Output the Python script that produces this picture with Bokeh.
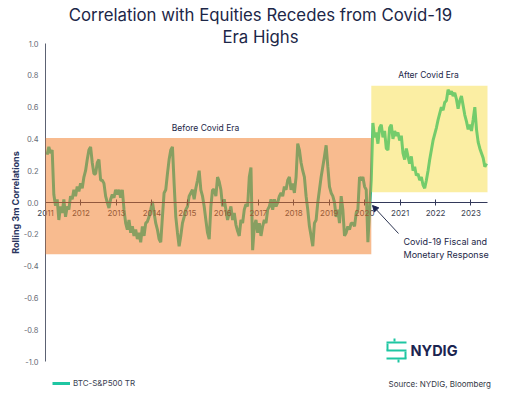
import pandas as pd
from bokeh.plotting import figure
from bokeh.models import (Range1d, FixedTicker, DatetimeTickFormatter, PrintfTickFormatter,
                          BoxAnnotation, Label, Arrow, NormalHead)
from bokeh.embed import file_html
from bokeh.resources import INLINE

# ---------------- data ----------------
series_name = "BTC-S&P500 TR"
first_date = "2011-01-18"
step = "413h"  # roughly every 17 days

before_covid = [
    0.30, 0.35, 0.31, 0.33, 0.05, -0.02, 0.02, -0.11, -0.025, -0.065,
    0.02, -0.09, -0.025, -0.045, 0.04, 0.02, 0.08, 0.04, 0.10, 0.07,
    0.12, 0.09, 0.16, 0.20, 0.27, 0.33, 0.35, 0.25, 0.18, 0.18,
    0.25, 0.27, 0.14, 0.14, 0.12, 0.04, 0.0, -0.035, 0.02, 0.05,
    0.03, 0.08, 0.05, 0.08, 0.03, 0.08, -0.045, -0.13, -0.17, -0.11,
    -0.19, -0.15, -0.21, -0.17, -0.23, -0.19, -0.25, -0.15, -0.21, -0.13,
    -0.12, -0.09, -0.045, 0.005, -0.065, -0.13, -0.17, -0.23, -0.25, -0.09,
    0.06, 0.08, 0.18, 0.27, 0.33, 0.35, 0.12, -0.09, -0.19, -0.275,
    -0.21, -0.13, -0.09, -0.045, -0.025, 0.04, 0.06, 0.08, 0.02, 0.09,
    0.14, 0.20, 0.08, 0.04, -0.025, -0.11, -0.19, -0.23, -0.025, 0.08,
    0.08, 0.04, 0.16, 0.13, 0.08, -0.025, 0.02, -0.045, -0.11, -0.065,
    -0.025, -0.11, -0.065, -0.14, -0.18, -0.21, -0.11, -0.13, -0.045, -0.01,
    -0.025, 0.16, 0.22, -0.30, -0.15, -0.11, -0.19, -0.13, -0.21, -0.15,
    -0.11, -0.13, -0.045, -0.025, 0.02, -0.045, 0.02, -0.025, 0.0, 0.04,
    0.06, 0.04, 0.10, 0.08, 0.14, 0.16, 0.08, 0.12, 0.06, 0.16,
    0.37, 0.33, 0.25, 0.20, 0.16, 0.04, -0.045, -0.15, -0.21, -0.275,
    -0.13, -0.11, 0.0, 0.08, 0.16, 0.225, 0.29, 0.36, 0.225, 0.10,
    0.06, 0.04, 0.0, -0.09, -0.045, -0.13, 0.04, -0.045, -0.21, -0.19,
    -0.15, -0.17, -0.13, -0.13, -0.15, -0.065, -0.045, 0.16, 0.14, 0.16,
    0.10, 0.08, -0.25, -0.045, 0.14,
]
after_covid = [
    0.50, 0.41, 0.44, 0.37, 0.47, 0.49, 0.41, 0.45, 0.34, 0.33,
    0.47, 0.49, 0.40, 0.45, 0.42, 0.44, 0.39, 0.42, 0.31, 0.27,
    0.34, 0.29, 0.245, 0.29, 0.20, 0.225, 0.17, 0.18, 0.14, 0.16,
    0.11, 0.09, 0.14, 0.20, 0.27, 0.33, 0.39, 0.43, 0.47, 0.52,
    0.56, 0.60, 0.58, 0.63, 0.64, 0.71, 0.68, 0.70, 0.67, 0.69,
    0.65, 0.59, 0.64, 0.67, 0.61, 0.55, 0.51, 0.46, 0.49, 0.45,
    0.52, 0.60, 0.46, 0.38, 0.34, 0.31, 0.28, 0.225, 0.245,
]

# eras: names, date bounds and correlation band
era_names = ["Before Covid Era", "After Covid Era"]
era_start = ["2011-01-01", "2020-03-10"]
era_end = ["2020-03-10", "2023-06-20"]
era_low = [-0.325, 0.065]
era_high = [0.405, 0.735]

axis_start, axis_end = "2011-01-01", "2023-06-20"
year_ticks = list(range(2011, 2024))
y_ticks = [-1.0, -0.8, -0.6, -0.4, -0.2, 0.0, 0.2, 0.4, 0.6, 0.8, 1.0]

title_lines = ["Correlation with Equities Recedes from Covid-19", "Era Highs"]
y_title = "Rolling 3m Correlations"
event_lines = ["Covid-19 Fiscal and", "Monetary Response"]
source_text = "Source: NYDIG, Bloomberg"
brand = "NYDIG"

# ---------------- layout / styling ----------------
FONT = "Inter"
NAVY = "#1d2748"
TEAL = "#1fc6a2"
W, H = 516, 395
# where the axes should sit on the canvas (pixels from top-left)
AX_LEFT, AX_RIGHT, AX_TOP, AX_BOTTOM = 45, 487, 43, 361


def ms(d):
    return pd.Timestamp(d).value / 1e6


def sy(page_y):
    return H - page_y


t0, t1 = ms(axis_start), ms(axis_end)
kx = (t1 - t0) / (AX_RIGHT - AX_LEFT)
ky = 2.0 / (AX_BOTTOM - AX_TOP)
x_range = Range1d(t0 - AX_LEFT * kx, t0 + (W - AX_LEFT) * kx)
y_range = Range1d(-1 - (H - AX_BOTTOM) * ky, 1 + AX_TOP * ky)

values = before_covid + after_covid
dates = pd.date_range(first_date, periods=len(values), freq=step)

p = figure(width=W, height=H, x_axis_type="datetime", output_backend="svg",
           toolbar_location=None, min_border=0,
           x_range=x_range, y_range=y_range)
p.outline_line_color = None
p.grid.visible = False
p.background_fill_color = "white"

line = p.line(dates, values, line_color=TEAL, line_width=3, legend_label=series_name)

# translucent era boxes drawn over the line
era_fill = ["#f2771f", "#f6d41a"]
era_alpha = [0.5, 0.4]
for i in range(len(era_names)):
    p.add_layout(BoxAnnotation(left=ms(era_start[i]), right=ms(era_end[i]),
                               bottom=era_low[i], top=era_high[i],
                               fill_color=era_fill[i], fill_alpha=era_alpha[i],
                               line_alpha=0))

# x axis sits on the zero line
xa = p.xaxis[0]
xa.fixed_location = 0
xa.bounds = (t0, t1)
xa.ticker = FixedTicker(ticks=[ms(f"{y}-01-01") for y in year_ticks])
xa.formatter = DatetimeTickFormatter(years="%Y", months="%Y", days="%Y", hours="%Y")
xa.axis_line_color = "#33395a"
xa.major_tick_line_color = "#33395a"
xa.major_tick_in = 3
xa.major_tick_out = 3
xa.minor_tick_line_color = None
xa.major_label_text_font = FONT
xa.major_label_text_font_size = "8px"
xa.major_label_text_color = "#3a3f52"
xa.major_label_standoff = 4

ya = p.yaxis[0]
ya.fixed_location = t0
ya.bounds = (-1, 1)
ya.ticker = FixedTicker(ticks=y_ticks)
ya.formatter = PrintfTickFormatter(format="%.1f")
ya.axis_line_color = "#5c6273"
ya.major_tick_line_color = None
ya.minor_tick_line_color = None
ya.major_tick_out = 0
ya.major_tick_in = 0
ya.major_label_text_font = FONT
ya.major_label_text_font_size = "7.5px"
ya.major_label_text_color = "#666a75"
ya.major_label_standoff = 7
ya.axis_label = y_title
ya.axis_label_text_font = FONT
ya.axis_label_text_font_size = "9px"
ya.axis_label_text_font_style = "bold"
ya.axis_label_text_color = "#2a3560"
ya.axis_label_standoff = 0


def label(x, page_y, text, size, color=NAVY, align="left", style="normal"):
    p.add_layout(Label(x=x, y=sy(page_y), x_units="screen", y_units="screen", text=text,
                       text_font=FONT, text_font_size=size, text_color=color,
                       text_align=align, text_baseline="middle", text_font_style=style))


label(260, 14, title_lines[0], "16.8px", align="center")
label(260, 36, title_lines[1], "16.8px", align="center")
label(205, 127, era_names[0], "8.5px", align="center")
label(428, 74, era_names[1], "8.5px", align="center")
label(403, 241, event_lines[0], "9px")
label(403, 254, event_lines[1], "9px")
label(388, 383, source_text, "8px", color="#333845")
label(410, 350, brand, "14.5px", style="bold", color="#1b2450")

p.add_layout(Arrow(x_start=398, y_start=sy(233), x_end=372, y_end=sy(205),
                   start_units="screen", end_units="screen",
                   line_color="#2a3350", line_width=1,
                   end=NormalHead(size=6, fill_color="#1b2450", line_color="#1b2450")))

# simple logo mark (page pixels: left, right, top, bottom)
for l, r, t, b in [(386, 406, 341, 343), (393, 395, 338, 341), (386, 388, 343, 350),
                   (386, 406, 349, 351), (404, 406, 351, 358), (386, 406, 357, 359),
                   (397, 399, 359, 362)]:
    p.add_layout(BoxAnnotation(left=l, right=r, bottom=sy(b), top=sy(t),
                               left_units="screen", right_units="screen",
                               bottom_units="screen", top_units="screen",
                               fill_color=TEAL, fill_alpha=1, line_alpha=0))

lg = p.legend[0]
lg.location = (52, sy(388))
lg.background_fill_alpha = 0
lg.border_line_alpha = 0
lg.padding = 0
lg.margin = 0
lg.glyph_width = 18
lg.glyph_height = 10
lg.label_height = 10
lg.label_standoff = 3
lg.label_text_font = FONT
lg.label_text_font_size = "8px"
lg.label_text_color = "#3a3f52"

open("out.html", "w").write(file_html(p, INLINE))
